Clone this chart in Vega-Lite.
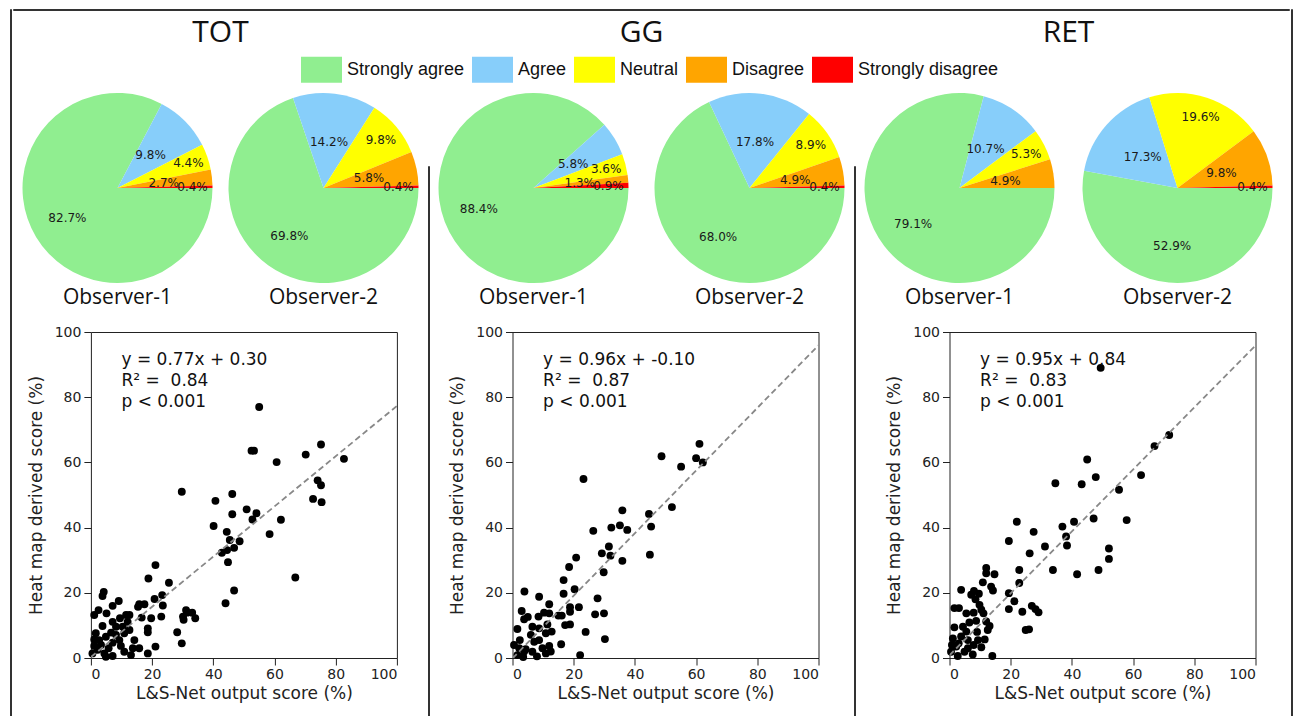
{
  "$schema": "https://vega.github.io/schema/vega-lite/v6.json",
  "padding": {"left": 9, "top": 8, "right": 0, "bottom": 0},
  "background": "white",
  "config": {
    "view": {"stroke": null},
    "font": "DejaVu Sans",
    "axis": {"labelFont": "DejaVu Sans", "labelFontSize": 14, "labelColor": "#222", "titleFont": "DejaVu Sans", "titleFontSize": 17, "titleFontWeight": "normal", "titleColor": "#222", "tickColor": "#222", "grid": false, "domain": false, "tickSize": 7, "labelPadding": 3},
    "legend": {"orient": "none"}
  },
  "datasets": {
    "pies": [
      {"panel": "TOT", "obs": "Observer-1", "cat": "Strongly agree", "k": 1, "p": 0.827},
      {"panel": "TOT", "obs": "Observer-1", "cat": "Agree", "k": 2, "p": 0.098},
      {"panel": "TOT", "obs": "Observer-1", "cat": "Neutral", "k": 3, "p": 0.044},
      {"panel": "TOT", "obs": "Observer-1", "cat": "Disagree", "k": 4, "p": 0.027},
      {"panel": "TOT", "obs": "Observer-1", "cat": "Strongly disagree", "k": 5, "p": 0.004},
      {"panel": "TOT", "obs": "Observer-2", "cat": "Strongly agree", "k": 1, "p": 0.698},
      {"panel": "TOT", "obs": "Observer-2", "cat": "Agree", "k": 2, "p": 0.142},
      {"panel": "TOT", "obs": "Observer-2", "cat": "Neutral", "k": 3, "p": 0.098},
      {"panel": "TOT", "obs": "Observer-2", "cat": "Disagree", "k": 4, "p": 0.058},
      {"panel": "TOT", "obs": "Observer-2", "cat": "Strongly disagree", "k": 5, "p": 0.004},
      {"panel": "GG", "obs": "Observer-1", "cat": "Strongly agree", "k": 1, "p": 0.884},
      {"panel": "GG", "obs": "Observer-1", "cat": "Agree", "k": 2, "p": 0.058},
      {"panel": "GG", "obs": "Observer-1", "cat": "Neutral", "k": 3, "p": 0.036},
      {"panel": "GG", "obs": "Observer-1", "cat": "Disagree", "k": 4, "p": 0.013},
      {"panel": "GG", "obs": "Observer-1", "cat": "Strongly disagree", "k": 5, "p": 0.009},
      {"panel": "GG", "obs": "Observer-2", "cat": "Strongly agree", "k": 1, "p": 0.680},
      {"panel": "GG", "obs": "Observer-2", "cat": "Agree", "k": 2, "p": 0.178},
      {"panel": "GG", "obs": "Observer-2", "cat": "Neutral", "k": 3, "p": 0.089},
      {"panel": "GG", "obs": "Observer-2", "cat": "Disagree", "k": 4, "p": 0.049},
      {"panel": "GG", "obs": "Observer-2", "cat": "Strongly disagree", "k": 5, "p": 0.004},
      {"panel": "RET", "obs": "Observer-1", "cat": "Strongly agree", "k": 1, "p": 0.791},
      {"panel": "RET", "obs": "Observer-1", "cat": "Agree", "k": 2, "p": 0.107},
      {"panel": "RET", "obs": "Observer-1", "cat": "Neutral", "k": 3, "p": 0.053},
      {"panel": "RET", "obs": "Observer-1", "cat": "Disagree", "k": 4, "p": 0.049},
      {"panel": "RET", "obs": "Observer-2", "cat": "Strongly agree", "k": 1, "p": 0.529},
      {"panel": "RET", "obs": "Observer-2", "cat": "Agree", "k": 2, "p": 0.173},
      {"panel": "RET", "obs": "Observer-2", "cat": "Neutral", "k": 3, "p": 0.196},
      {"panel": "RET", "obs": "Observer-2", "cat": "Disagree", "k": 4, "p": 0.098},
      {"panel": "RET", "obs": "Observer-2", "cat": "Strongly disagree", "k": 5, "p": 0.004}
    ],
    "fit": [
      {"panel": "TOT", "x": 0, "y": 0.30}, {"panel": "TOT", "x": 100, "y": 77.30},
      {"panel": "GG", "x": 0, "y": -0.10}, {"panel": "GG", "x": 100, "y": 95.90},
      {"panel": "RET", "x": 0, "y": 0.84}, {"panel": "RET", "x": 100, "y": 95.84}
    ],
    "ann": [
      {"panel": "TOT", "x": 10, "y": 91.4, "t": "y = 0.77x + 0.30"},
      {"panel": "TOT", "x": 10, "y": 85.0, "t": "R² = \u00a00.84"},
      {"panel": "TOT", "x": 10, "y": 78.5, "t": "p < 0.001"},
      {"panel": "GG", "x": 10, "y": 91.4, "t": "y = 0.96x + -0.10"},
      {"panel": "GG", "x": 10, "y": 85.0, "t": "R² = \u00a00.87"},
      {"panel": "GG", "x": 10, "y": 78.5, "t": "p < 0.001"},
      {"panel": "RET", "x": 10, "y": 91.4, "t": "y = 0.95x + 0.84"},
      {"panel": "RET", "x": 10, "y": 85.0, "t": "R² = \u00a00.83"},
      {"panel": "RET", "x": 10, "y": 78.5, "t": "p < 0.001"}
    ],
    "pts": [
      {"panel":"TOT","x":55,"y":77},{"panel":"TOT","x":52.5,"y":63.6},{"panel":"TOT","x":53.3,"y":63.6},{"panel":"TOT","x":75.2,"y":65.5},{"panel":"TOT","x":70.2,"y":62.4},{"panel":"TOT","x":60.7,"y":60.1},{"panel":"TOT","x":82.7,"y":61.1},{"panel":"TOT","x":74.1,"y":54.5},{"panel":"TOT","x":75.2,"y":53.0},{"panel":"TOT","x":72.6,"y":48.8},{"panel":"TOT","x":75.4,"y":47.8},{"panel":"TOT","x":29.7,"y":51.0},{"panel":"TOT","x":46.2,"y":50.3},{"panel":"TOT","x":40.7,"y":48.2},{"panel":"TOT","x":46.2,"y":44.1},{"panel":"TOT","x":50.9,"y":45.6},{"panel":"TOT","x":54.1,"y":44.4},{"panel":"TOT","x":52.8,"y":42.5},{"panel":"TOT","x":62.1,"y":42.4},{"panel":"TOT","x":40.1,"y":40.5},{"panel":"TOT","x":44.4,"y":38.7},{"panel":"TOT","x":58.4,"y":38.0},{"panel":"TOT","x":45.4,"y":36.2},{"panel":"TOT","x":48.6,"y":35.8},{"panel":"TOT","x":46.8,"y":33.8},{"panel":"TOT","x":44.5,"y":33.1},{"panel":"TOT","x":42.8,"y":32.3},{"panel":"TOT","x":44.8,"y":29.4},{"panel":"TOT","x":66.8,"y":24.7},{"panel":"TOT","x":46.8,"y":20.7},{"panel":"TOT","x":44.0,"y":16.8},{"panel":"TOT","x":21.1,"y":28.5},{"panel":"TOT","x":18.8,"y":24.4},{"panel":"TOT","x":25.5,"y":23.1},{"panel":"TOT","x":23.3,"y":19.3},{"panel":"TOT","x":20.8,"y":18.1},{"panel":"TOT","x":23.5,"y":16.1},{"panel":"TOT","x":4.2,"y":20.3},{"panel":"TOT","x":3.8,"y":19.0},{"panel":"TOT","x":9.1,"y":17.5},{"panel":"TOT","x":7.1,"y":16.0},{"panel":"TOT","x":15.8,"y":16.5},{"panel":"TOT","x":17.5,"y":16.5},{"panel":"TOT","x":15.4,"y":15.7},{"panel":"TOT","x":2.5,"y":14.7},{"panel":"TOT","x":1.1,"y":13.2},{"panel":"TOT","x":5.1,"y":13.7},{"panel":"TOT","x":11.5,"y":13.2},{"panel":"TOT","x":12.6,"y":13.2},{"panel":"TOT","x":9.5,"y":12.2},{"panel":"TOT","x":23.0,"y":12.7},{"panel":"TOT","x":19.7,"y":12.2},{"panel":"TOT","x":16.6,"y":12.4},{"panel":"TOT","x":3.8,"y":9.8},{"panel":"TOT","x":7.1,"y":11.1},{"panel":"TOT","x":8.2,"y":9.6},{"panel":"TOT","x":12.0,"y":11.1},{"panel":"TOT","x":10.4,"y":9.6},{"panel":"TOT","x":12.6,"y":8.6},{"panel":"TOT","x":18.6,"y":9.1},{"panel":"TOT","x":18.6,"y":7.9},{"panel":"TOT","x":6.6,"y":7.8},{"panel":"TOT","x":4.9,"y":6.5},{"panel":"TOT","x":2.7,"y":5.5},{"panel":"TOT","x":1.1,"y":5.7},{"panel":"TOT","x":9.3,"y":5.5},{"panel":"TOT","x":7.1,"y":4.7},{"panel":"TOT","x":5.8,"y":3.0},{"panel":"TOT","x":2.2,"y":2.5},{"panel":"TOT","x":0.5,"y":1.4},{"panel":"TOT","x":4.4,"y":1.4},{"panel":"TOT","x":7.1,"y":0.6},{"panel":"TOT","x":10.9,"y":1.9},{"panel":"TOT","x":13.7,"y":3.0},{"panel":"TOT","x":15.8,"y":3.0},{"panel":"TOT","x":13.1,"y":0.9},{"panel":"TOT","x":18.6,"y":1.4},{"panel":"TOT","x":21.1,"y":3.5},{"panel":"TOT","x":28.2,"y":7.9},{"panel":"TOT","x":29.7,"y":4.5},{"panel":"TOT","x":30.1,"y":12.7},{"panel":"TOT","x":30.3,"y":11.7},{"panel":"TOT","x":31.4,"y":13.9},{"panel":"TOT","x":33.1,"y":13.9},{"panel":"TOT","x":34.1,"y":12.2},{"panel":"TOT","x":31.1,"y":14.7},{"panel":"TOT","x":1.6,"y":7.6},{"panel":"TOT","x":8.2,"y":7.1},{"panel":"TOT","x":3.3,"y":4.0},{"panel":"TOT","x":9.8,"y":3.7},{"panel":"TOT","x":1.1,"y":3.7},{"panel":"TOT","x":10.9,"y":7.6},{"panel":"TOT","x":14.2,"y":5.5},{"panel":"TOT","x":4.9,"y":0.4},
      {"panel":"GG","x":61.1,"y":65.7},{"panel":"GG","x":48.7,"y":61.9},{"panel":"GG","x":60.0,"y":61.3},{"panel":"GG","x":62.2,"y":60.0},{"panel":"GG","x":55.1,"y":58.7},{"panel":"GG","x":23.2,"y":54.9},{"panel":"GG","x":52.1,"y":46.3},{"panel":"GG","x":35.9,"y":45.3},{"panel":"GG","x":44.6,"y":44.2},{"panel":"GG","x":45.3,"y":40.3},{"panel":"GG","x":35.1,"y":40.7},{"panel":"GG","x":32.3,"y":40.0},{"panel":"GG","x":37.5,"y":39.3},{"panel":"GG","x":26.4,"y":39.0},{"panel":"GG","x":31.5,"y":34.2},{"panel":"GG","x":29.2,"y":32.1},{"panel":"GG","x":32.0,"y":31.4},{"panel":"GG","x":44.9,"y":31.7},{"panel":"GG","x":35.9,"y":29.8},{"panel":"GG","x":20.8,"y":30.8},{"panel":"GG","x":29.8,"y":26.3},{"panel":"GG","x":18.5,"y":27.9},{"panel":"GG","x":16.7,"y":23.9},{"panel":"GG","x":27.8,"y":18.3},{"panel":"GG","x":20.3,"y":21.1},{"panel":"GG","x":16.7,"y":19.7},{"panel":"GG","x":21.7,"y":15.6},{"panel":"GG","x":18.8,"y":15.6},{"panel":"GG","x":18.8,"y":14.2},{"panel":"GG","x":16.1,"y":13.0},{"panel":"GG","x":27.0,"y":13.4},{"panel":"GG","x":29.9,"y":13.7},{"panel":"GG","x":17.2,"y":10.1},{"panel":"GG","x":18.8,"y":10.3},{"panel":"GG","x":23.9,"y":8.0},{"panel":"GG","x":15.9,"y":4.2},{"panel":"GG","x":30.2,"y":5.8},{"panel":"GG","x":22.1,"y":0.9},{"panel":"GG","x":3.9,"y":20.4},{"panel":"GG","x":8.7,"y":18.8},{"panel":"GG","x":12.0,"y":16.5},{"panel":"GG","x":3.0,"y":14.4},{"panel":"GG","x":3.8,"y":11.9},{"panel":"GG","x":8.5,"y":12.7},{"panel":"GG","x":10.3,"y":13.9},{"panel":"GG","x":12.0,"y":13.7},{"panel":"GG","x":5.0,"y":12.6},{"panel":"GG","x":1.6,"y":8.9},{"panel":"GG","x":6.5,"y":9.6},{"panel":"GG","x":8.7,"y":9.1},{"panel":"GG","x":11.4,"y":10.3},{"panel":"GG","x":12.8,"y":8.1},{"panel":"GG","x":6.0,"y":7.1},{"panel":"GG","x":10.9,"y":7.6},{"panel":"GG","x":7.1,"y":5.0},{"panel":"GG","x":2.4,"y":5.5},{"panel":"GG","x":0.5,"y":4.0},{"panel":"GG","x":2.2,"y":3.0},{"panel":"GG","x":4.3,"y":2.7},{"panel":"GG","x":9.8,"y":3.0},{"panel":"GG","x":12.0,"y":3.7},{"panel":"GG","x":6.5,"y":1.9},{"panel":"GG","x":10.9,"y":1.4},{"panel":"GG","x":1.6,"y":0.9},{"panel":"GG","x":8.7,"y":5.5},{"panel":"GG","x":15.0,"y":13.0},{"panel":"GG","x":3.8,"y":2.0},{"panel":"GG","x":8.0,"y":0.5},{"panel":"GG","x":3.5,"y":0.3},{"panel":"GG","x":12.5,"y":2.0},
      {"panel":"RET","x":49.4,"y":89.0},{"panel":"RET","x":71.8,"y":68.4},{"panel":"RET","x":67.0,"y":65.0},{"panel":"RET","x":62.6,"y":56.1},{"panel":"RET","x":45.0,"y":60.9},{"panel":"RET","x":47.8,"y":55.5},{"panel":"RET","x":43.2,"y":53.3},{"panel":"RET","x":34.6,"y":53.6},{"panel":"RET","x":55.4,"y":51.6},{"panel":"RET","x":22.0,"y":41.8},{"panel":"RET","x":40.7,"y":41.8},{"panel":"RET","x":36.9,"y":40.3},{"panel":"RET","x":47.1,"y":42.8},{"panel":"RET","x":57.9,"y":42.3},{"panel":"RET","x":27.5,"y":38.7},{"panel":"RET","x":38.1,"y":37.3},{"panel":"RET","x":38.4,"y":34.5},{"panel":"RET","x":19.4,"y":35.9},{"panel":"RET","x":31.2,"y":34.2},{"panel":"RET","x":26.2,"y":32.1},{"panel":"RET","x":52.1,"y":33.6},{"panel":"RET","x":52.1,"y":30.4},{"panel":"RET","x":33.8,"y":27.0},{"panel":"RET","x":22.8,"y":27.0},{"panel":"RET","x":41.7,"y":25.7},{"panel":"RET","x":48.7,"y":27.0},{"panel":"RET","x":12.0,"y":27.6},{"panel":"RET","x":12.0,"y":26.0},{"panel":"RET","x":14.7,"y":25.7},{"panel":"RET","x":10.9,"y":23.2},{"panel":"RET","x":13.6,"y":21.9},{"panel":"RET","x":14.2,"y":20.7},{"panel":"RET","x":22.8,"y":23.0},{"panel":"RET","x":3.8,"y":20.9},{"panel":"RET","x":7.1,"y":19.4},{"panel":"RET","x":9.6,"y":19.7},{"panel":"RET","x":8.0,"y":20.6},{"panel":"RET","x":8.5,"y":18.0},{"panel":"RET","x":9.8,"y":16.3},{"panel":"RET","x":10.4,"y":14.8},{"panel":"RET","x":19.4,"y":19.9},{"panel":"RET","x":21.2,"y":17.4},{"panel":"RET","x":19.4,"y":15.0},{"panel":"RET","x":23.8,"y":14.2},{"panel":"RET","x":26.9,"y":16.0},{"panel":"RET","x":28.1,"y":15.0},{"panel":"RET","x":29.1,"y":14.0},{"panel":"RET","x":24.9,"y":8.6},{"panel":"RET","x":26.0,"y":8.8},{"panel":"RET","x":1.6,"y":15.3},{"panel":"RET","x":3.1,"y":15.3},{"panel":"RET","x":5.5,"y":13.7},{"panel":"RET","x":7.9,"y":13.9},{"panel":"RET","x":11.1,"y":13.7},{"panel":"RET","x":12.0,"y":11.2},{"panel":"RET","x":13.1,"y":9.8},{"panel":"RET","x":12.5,"y":8.6},{"panel":"RET","x":8.7,"y":11.4},{"panel":"RET","x":6.5,"y":10.9},{"panel":"RET","x":1.6,"y":9.4},{"panel":"RET","x":4.4,"y":9.6},{"panel":"RET","x":5.5,"y":8.1},{"panel":"RET","x":3.8,"y":6.6},{"panel":"RET","x":1.1,"y":6.0},{"panel":"RET","x":9.3,"y":5.5},{"panel":"RET","x":11.5,"y":5.7},{"panel":"RET","x":7.9,"y":4.0},{"panel":"RET","x":10.4,"y":3.3},{"panel":"RET","x":2.2,"y":3.5},{"panel":"RET","x":0.5,"y":1.9},{"panel":"RET","x":4.9,"y":1.9},{"panel":"RET","x":7.6,"y":1.1},{"panel":"RET","x":14.0,"y":0.6},{"panel":"RET","x":2.7,"y":0.6},{"panel":"RET","x":6.0,"y":5.5},{"panel":"RET","x":3.0,"y":4.5},{"panel":"RET","x":6.0,"y":3.0},{"panel":"RET","x":9.0,"y":8.0},{"panel":"RET","x":0.8,"y":4.0}
    ]
  },
  "spacing": 0,
  "hconcat": [
    {"width": 1, "height": 708, "view": {"stroke": "#333", "strokeWidth": 1}, "data": {"values": []}, "mark": "point", "encoding": {}},
    {
      "spacing": 7,
      "vconcat": [
        {"width": 1276, "height": 1, "view": {"stroke": "#333", "strokeWidth": 1}, "data": {"values": []}, "mark": "point", "encoding": {}},
        {
          "spacing": 8.5,
          "hconcat": [
            {"width": 1, "height": 1, "data": {"values": []}, "mark": "point", "encoding": {}},
            {
              "title": {"text": "TOT", "font": "Open Sans", "fontSize": 30, "fontWeight": "normal", "color": "#111", "anchor": "middle", "offset": 45},
              "spacing": 16,
              "vconcat": [
                {"spacing": 16, "hconcat": [
                  {"width": 190, "height": 190, "title": {"text": "Observer-1", "orient": "bottom", "font": "Open Sans", "fontSize": 21, "fontWeight": "normal", "color": "#111", "offset": 4},
                   "data": {"name": "pies"}, "transform": [{"filter": "datum.panel === 'TOT' && datum.obs === 'Observer-1'"}],
                   "encoding": {"theta": {"field": "p", "type": "quantitative", "stack": true, "scale": {"domain": [0, 1], "range": [1.5707963, 7.8539816]}}, "order": {"field": "k", "type": "quantitative"}, "color": {"field": "cat", "type": "nominal", "scale": {"domain": ["Strongly agree", "Agree", "Neutral", "Disagree", "Strongly disagree"], "range": ["#90EE90", "#87CEFA", "#FFFF00", "#FFA500", "#FF0000"]}, "legend": {"orient": "none", "legendX": 291, "legendY": 40, "direction": "horizontal", "columns": 5, "title": null, "symbolType": "M-1,-0.634H1V0.634H-1Z", "symbolSize": 1681, "symbolStrokeWidth": 0, "symbolOpacity": 1, "labelFont": "Liberation Sans", "labelFontSize": 18, "labelColor": "#111", "labelOffset": 5, "columnPadding": 7, "labelLimit": 300}}},
                   "layer": [{"mark": {"type": "arc", "radius": 95}}, {"mark": {"type": "text", "radius": {"expr": "datum.cat === 'Strongly agree' ? 58.5 : (datum.cat === 'Agree' || datum.cat === 'Disagree') ? 46.5 : 75"}, "font": "DejaVu Sans", "fontSize": 12}, "encoding": {"text": {"field": "p", "format": ".1%"}, "color": {"value": "#1a1a1a"}, "detail": {"field": "cat"}}}]},
                  {"width": 190, "height": 190, "title": {"text": "Observer-2", "orient": "bottom", "font": "Open Sans", "fontSize": 21, "fontWeight": "normal", "color": "#111", "offset": 4},
                   "data": {"name": "pies"}, "transform": [{"filter": "datum.panel === 'TOT' && datum.obs === 'Observer-2'"}],
                   "encoding": {"theta": {"field": "p", "type": "quantitative", "stack": true, "scale": {"domain": [0, 1], "range": [1.5707963, 7.8539816]}}, "order": {"field": "k", "type": "quantitative"}, "color": {"field": "cat", "type": "nominal", "scale": {"domain": ["Strongly agree", "Agree", "Neutral", "Disagree", "Strongly disagree"], "range": ["#90EE90", "#87CEFA", "#FFFF00", "#FFA500", "#FF0000"]}, "legend": {"orient": "none", "legendX": 291, "legendY": 40, "direction": "horizontal", "columns": 5, "title": null, "symbolType": "M-1,-0.634H1V0.634H-1Z", "symbolSize": 1681, "symbolStrokeWidth": 0, "symbolOpacity": 1, "labelFont": "Liberation Sans", "labelFontSize": 18, "labelColor": "#111", "labelOffset": 5, "columnPadding": 7, "labelLimit": 300}}},
                   "layer": [{"mark": {"type": "arc", "radius": 95}}, {"mark": {"type": "text", "radius": {"expr": "datum.cat === 'Strongly agree' ? 58.5 : (datum.cat === 'Agree' || datum.cat === 'Disagree') ? 46.5 : 75"}, "font": "DejaVu Sans", "fontSize": 12}, "encoding": {"text": {"field": "p", "format": ".1%"}, "color": {"value": "#1a1a1a"}, "detail": {"field": "cat"}}}]}
                ]},
                {"spacing": 2.4, "hconcat": [
                  {"width": 1, "height": 1, "data": {"values": []}, "mark": "point", "encoding": {}},
                  {"width": 306, "height": 326, "view": {"stroke": "#222", "strokeWidth": 1},
                   "layer": [
                     {"data": {"name": "pts"}, "transform": [{"filter": "datum.panel === 'TOT'"}], "mark": {"type": "circle", "size": 62, "color": "black", "opacity": 1},
                      "encoding": {"x": {"field": "x", "type": "quantitative", "scale": {"domain": [0, 100], "nice": false}, "axis": {"values": [0, 20, 40, 60, 80, 100], "titlePadding": 4, "labelPadding": 2}, "title": "L&S-Net output score (%)"}, "y": {"field": "y", "type": "quantitative", "scale": {"domain": [0, 100], "nice": false}, "axis": {"values": [0, 20, 40, 60, 80, 100], "titlePadding": 9, "labelPadding": 3}, "title": "Heat map derived score (%)"}}},
                     {"data": {"name": "fit"}, "transform": [{"filter": "datum.panel === 'TOT'"}], "mark": {"type": "line", "strokeDash": [6, 3.5], "color": "#888", "strokeWidth": 1.8, "clip": true},
                      "encoding": {"x": {"field": "x", "type": "quantitative"}, "y": {"field": "y", "type": "quantitative"}}},
                     {"data": {"name": "ann"}, "transform": [{"filter": "datum.panel === 'TOT'"}], "mark": {"type": "text", "align": "left", "baseline": "middle", "fontSize": 17, "font": "DejaVu Sans", "color": "#111"},
                      "encoding": {"x": {"field": "x", "type": "quantitative"}, "y": {"field": "y", "type": "quantitative"}, "text": {"field": "t"}}}
                   ]}
                ]}
              ]
            },
            {"spacing": 0, "vconcat": [
              {"width": 1, "height": 72, "data": {"values": []}, "mark": "point", "encoding": {}},
              {"width": 1, "height": 628, "view": {"stroke": "#333", "strokeWidth": 1}, "data": {"values": []}, "mark": "point", "encoding": {}}
            ]},
            {
              "title": {"text": "GG", "font": "Open Sans", "fontSize": 30, "fontWeight": "normal", "color": "#111", "anchor": "middle", "offset": 45},
              "spacing": 16,
              "vconcat": [
                {"spacing": 26, "hconcat": [
                  {"width": 190, "height": 190, "title": {"text": "Observer-1", "orient": "bottom", "font": "Open Sans", "fontSize": 21, "fontWeight": "normal", "color": "#111", "offset": 4},
                   "data": {"name": "pies"}, "transform": [{"filter": "datum.panel === 'GG' && datum.obs === 'Observer-1'"}],
                   "encoding": {"theta": {"field": "p", "type": "quantitative", "stack": true, "scale": {"domain": [0, 1], "range": [1.5707963, 7.8539816]}}, "order": {"field": "k", "type": "quantitative"}, "color": {"field": "cat", "type": "nominal", "scale": {"domain": ["Strongly agree", "Agree", "Neutral", "Disagree", "Strongly disagree"], "range": ["#90EE90", "#87CEFA", "#FFFF00", "#FFA500", "#FF0000"]}, "legend": {"orient": "none", "legendX": 291, "legendY": 40, "direction": "horizontal", "columns": 5, "title": null, "symbolType": "M-1,-0.634H1V0.634H-1Z", "symbolSize": 1681, "symbolStrokeWidth": 0, "symbolOpacity": 1, "labelFont": "Liberation Sans", "labelFontSize": 18, "labelColor": "#111", "labelOffset": 5, "columnPadding": 7, "labelLimit": 300}}},
                   "layer": [{"mark": {"type": "arc", "radius": 95}}, {"mark": {"type": "text", "radius": {"expr": "datum.cat === 'Strongly agree' ? 58.5 : (datum.cat === 'Agree' || datum.cat === 'Disagree') ? 46.5 : 75"}, "font": "DejaVu Sans", "fontSize": 12}, "encoding": {"text": {"field": "p", "format": ".1%"}, "color": {"value": "#1a1a1a"}, "detail": {"field": "cat"}}}]},
                  {"width": 190, "height": 190, "title": {"text": "Observer-2", "orient": "bottom", "font": "Open Sans", "fontSize": 21, "fontWeight": "normal", "color": "#111", "offset": 4},
                   "data": {"name": "pies"}, "transform": [{"filter": "datum.panel === 'GG' && datum.obs === 'Observer-2'"}],
                   "encoding": {"theta": {"field": "p", "type": "quantitative", "stack": true, "scale": {"domain": [0, 1], "range": [1.5707963, 7.8539816]}}, "order": {"field": "k", "type": "quantitative"}, "color": {"field": "cat", "type": "nominal", "scale": {"domain": ["Strongly agree", "Agree", "Neutral", "Disagree", "Strongly disagree"], "range": ["#90EE90", "#87CEFA", "#FFFF00", "#FFA500", "#FF0000"]}, "legend": {"orient": "none", "legendX": 291, "legendY": 40, "direction": "horizontal", "columns": 5, "title": null, "symbolType": "M-1,-0.634H1V0.634H-1Z", "symbolSize": 1681, "symbolStrokeWidth": 0, "symbolOpacity": 1, "labelFont": "Liberation Sans", "labelFontSize": 18, "labelColor": "#111", "labelOffset": 5, "columnPadding": 7, "labelLimit": 300}}},
                   "layer": [{"mark": {"type": "arc", "radius": 95}}, {"mark": {"type": "text", "radius": {"expr": "datum.cat === 'Strongly agree' ? 58.5 : (datum.cat === 'Agree' || datum.cat === 'Disagree') ? 46.5 : 75"}, "font": "DejaVu Sans", "fontSize": 12}, "encoding": {"text": {"field": "p", "format": ".1%"}, "color": {"value": "#1a1a1a"}, "detail": {"field": "cat"}}}]}
                ]},
                {"spacing": 8, "hconcat": [
                  {"width": 1, "height": 1, "data": {"values": []}, "mark": "point", "encoding": {}},
                  {"width": 306, "height": 326, "view": {"stroke": "#222", "strokeWidth": 1},
                   "layer": [
                     {"data": {"name": "pts"}, "transform": [{"filter": "datum.panel === 'GG'"}], "mark": {"type": "circle", "size": 62, "color": "black", "opacity": 1},
                      "encoding": {"x": {"field": "x", "type": "quantitative", "scale": {"domain": [0, 100], "nice": false}, "axis": {"values": [0, 20, 40, 60, 80, 100], "titlePadding": 4, "labelPadding": 2}, "title": "L&S-Net output score (%)"}, "y": {"field": "y", "type": "quantitative", "scale": {"domain": [0, 100], "nice": false}, "axis": {"values": [0, 20, 40, 60, 80, 100], "titlePadding": 9, "labelPadding": 3}, "title": "Heat map derived score (%)"}}},
                     {"data": {"name": "fit"}, "transform": [{"filter": "datum.panel === 'GG'"}], "mark": {"type": "line", "strokeDash": [6, 3.5], "color": "#888", "strokeWidth": 1.8, "clip": true},
                      "encoding": {"x": {"field": "x", "type": "quantitative"}, "y": {"field": "y", "type": "quantitative"}}},
                     {"data": {"name": "ann"}, "transform": [{"filter": "datum.panel === 'GG'"}], "mark": {"type": "text", "align": "left", "baseline": "middle", "fontSize": 17, "font": "DejaVu Sans", "color": "#111"},
                      "encoding": {"x": {"field": "x", "type": "quantitative"}, "y": {"field": "y", "type": "quantitative"}, "text": {"field": "t"}}}
                   ]}
                ]}
              ]
            },
            {"spacing": 0, "vconcat": [
              {"width": 1, "height": 72, "data": {"values": []}, "mark": "point", "encoding": {}},
              {"width": 1, "height": 628, "view": {"stroke": "#333", "strokeWidth": 1}, "data": {"values": []}, "mark": "point", "encoding": {}}
            ]},
            {
              "title": {"text": "RET", "font": "Open Sans", "fontSize": 30, "fontWeight": "normal", "color": "#111", "anchor": "middle", "offset": 45},
              "spacing": 16,
              "vconcat": [
                {"spacing": 28, "hconcat": [
                  {"width": 190, "height": 190, "title": {"text": "Observer-1", "orient": "bottom", "font": "Open Sans", "fontSize": 21, "fontWeight": "normal", "color": "#111", "offset": 4},
                   "data": {"name": "pies"}, "transform": [{"filter": "datum.panel === 'RET' && datum.obs === 'Observer-1'"}],
                   "encoding": {"theta": {"field": "p", "type": "quantitative", "stack": true, "scale": {"domain": [0, 1], "range": [1.5707963, 7.8539816]}}, "order": {"field": "k", "type": "quantitative"}, "color": {"field": "cat", "type": "nominal", "scale": {"domain": ["Strongly agree", "Agree", "Neutral", "Disagree", "Strongly disagree"], "range": ["#90EE90", "#87CEFA", "#FFFF00", "#FFA500", "#FF0000"]}, "legend": {"orient": "none", "legendX": 291, "legendY": 40, "direction": "horizontal", "columns": 5, "title": null, "symbolType": "M-1,-0.634H1V0.634H-1Z", "symbolSize": 1681, "symbolStrokeWidth": 0, "symbolOpacity": 1, "labelFont": "Liberation Sans", "labelFontSize": 18, "labelColor": "#111", "labelOffset": 5, "columnPadding": 7, "labelLimit": 300}}},
                   "layer": [{"mark": {"type": "arc", "radius": 95}}, {"mark": {"type": "text", "radius": {"expr": "datum.cat === 'Strongly agree' ? 58.5 : (datum.cat === 'Agree' || datum.cat === 'Disagree') ? 46.5 : 75"}, "font": "DejaVu Sans", "fontSize": 12}, "encoding": {"text": {"field": "p", "format": ".1%"}, "color": {"value": "#1a1a1a"}, "detail": {"field": "cat"}}}]},
                  {"width": 190, "height": 190, "title": {"text": "Observer-2", "orient": "bottom", "font": "Open Sans", "fontSize": 21, "fontWeight": "normal", "color": "#111", "offset": 4},
                   "data": {"name": "pies"}, "transform": [{"filter": "datum.panel === 'RET' && datum.obs === 'Observer-2'"}],
                   "encoding": {"theta": {"field": "p", "type": "quantitative", "stack": true, "scale": {"domain": [0, 1], "range": [1.5707963, 7.8539816]}}, "order": {"field": "k", "type": "quantitative"}, "color": {"field": "cat", "type": "nominal", "scale": {"domain": ["Strongly agree", "Agree", "Neutral", "Disagree", "Strongly disagree"], "range": ["#90EE90", "#87CEFA", "#FFFF00", "#FFA500", "#FF0000"]}, "legend": {"orient": "none", "legendX": 291, "legendY": 40, "direction": "horizontal", "columns": 5, "title": null, "symbolType": "M-1,-0.634H1V0.634H-1Z", "symbolSize": 1681, "symbolStrokeWidth": 0, "symbolOpacity": 1, "labelFont": "Liberation Sans", "labelFontSize": 18, "labelColor": "#111", "labelOffset": 5, "columnPadding": 7, "labelLimit": 300}}},
                   "layer": [{"mark": {"type": "arc", "radius": 95}}, {"mark": {"type": "text", "radius": {"expr": "datum.cat === 'Strongly agree' ? 58.5 : (datum.cat === 'Agree' || datum.cat === 'Disagree') ? 46.5 : 75"}, "font": "DejaVu Sans", "fontSize": 12}, "encoding": {"text": {"field": "p", "format": ".1%"}, "color": {"value": "#1a1a1a"}, "detail": {"field": "cat"}}}]}
                ]},
                {"spacing": 19, "hconcat": [
                  {"width": 1, "height": 1, "data": {"values": []}, "mark": "point", "encoding": {}},
                  {"width": 306, "height": 326, "view": {"stroke": "#222", "strokeWidth": 1},
                   "layer": [
                     {"data": {"name": "pts"}, "transform": [{"filter": "datum.panel === 'RET'"}], "mark": {"type": "circle", "size": 62, "color": "black", "opacity": 1},
                      "encoding": {"x": {"field": "x", "type": "quantitative", "scale": {"domain": [0, 100], "nice": false}, "axis": {"values": [0, 20, 40, 60, 80, 100], "titlePadding": 4, "labelPadding": 2}, "title": "L&S-Net output score (%)"}, "y": {"field": "y", "type": "quantitative", "scale": {"domain": [0, 100], "nice": false}, "axis": {"values": [0, 20, 40, 60, 80, 100], "titlePadding": 9, "labelPadding": 3}, "title": "Heat map derived score (%)"}}},
                     {"data": {"name": "fit"}, "transform": [{"filter": "datum.panel === 'RET'"}], "mark": {"type": "line", "strokeDash": [6, 3.5], "color": "#888", "strokeWidth": 1.8, "clip": true},
                      "encoding": {"x": {"field": "x", "type": "quantitative"}, "y": {"field": "y", "type": "quantitative"}}},
                     {"data": {"name": "ann"}, "transform": [{"filter": "datum.panel === 'RET'"}], "mark": {"type": "text", "align": "left", "baseline": "middle", "fontSize": 17, "font": "DejaVu Sans", "color": "#111"},
                      "encoding": {"x": {"field": "x", "type": "quantitative"}, "y": {"field": "y", "type": "quantitative"}, "text": {"field": "t"}}}
                   ]}
                ]}
              ]
            }
          ]
        }
      ]
    },
    {"width": 1, "height": 708, "view": {"stroke": "#333", "strokeWidth": 1}, "data": {"values": []}, "mark": "point", "encoding": {}}
  ]
}
